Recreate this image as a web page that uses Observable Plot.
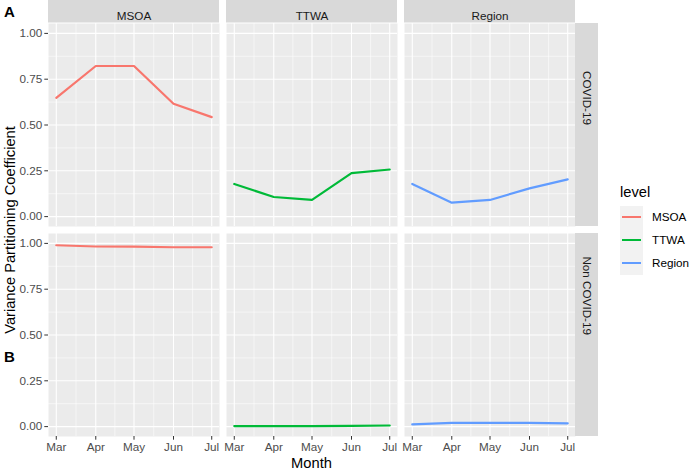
<!DOCTYPE html>
<html><head><meta charset="utf-8">
<script src="https://cdn.jsdelivr.net/npm/d3@7"></script>
<script src="https://cdn.jsdelivr.net/npm/@observablehq/plot@0.6"></script>
<style>
body{margin:0;background:#fff;font-family:"Liberation Sans",Arial,sans-serif;}
#wrap{position:relative;width:689px;height:470px;overflow:hidden;}
#wrap svg{position:absolute;left:0;top:0;}
.lab{position:absolute;white-space:nowrap;color:#000;}
.key{position:absolute;width:23px;height:23px;background:#F2F2F2;}
.key i{position:absolute;left:2px;right:2px;top:10.5px;height:2.2px;}
.kl{position:absolute;font-size:11.7px;color:#000;white-space:nowrap;}
</style></head><body><div id="wrap"></div>
<script>
const months = ["Mar","Apr","May","Jun","Jul"];
const levels = ["MSOA","TTWA","Region"];
const causes = ["COVID-19","Non COVID-19"];
const covidMSOA   = [0.648,0.822,0.822,0.616,0.543];
const covidTTWA   = [0.178,0.107,0.091,0.237,0.257];
const covidRegion = [0.178,0.076,0.091,0.154,0.203];
const nonMSOA     = [0.990,0.983,0.982,0.979,0.979];
const nonTTWA     = [0.003,0.003,0.003,0.004,0.006];
const nonRegion   = [0.012,0.020,0.020,0.020,0.018];
const yTicks = [0,0.25,0.5,0.75,1];
const yMinor = [0.125,0.375,0.625,0.875];
const colors = ["#F8766D","#00BA38","#619CFF"];

const monthDates = months.map((m,i)=>new Date(Date.UTC(2020,2+i,1)));
const series = {
  "COVID-19": {MSOA: covidMSOA, TTWA: covidTTWA, Region: covidRegion},
  "Non COVID-19": {MSOA: nonMSOA, TTWA: nonTTWA, Region: nonRegion}
};
const data = [];
for (const c of causes) for (const l of levels)
  series[c][l].forEach((v,i)=>data.push({date: monthDates[i], level: l, cause: c, value: v}));

const t0 = +monthDates[0], t1 = +monthDates[monthDates.length-1], span = t1 - t0;
const xDomain = [new Date(t0 - 0.05*span), new Date(t1 + 0.05*span)];
const yDomain = [-0.054, 1.054];
const xMinor = monthDates.slice(1).map((d,i)=>new Date((+d + +monthDates[i])/2));

const W=689, H=470, mL=48, mR=114, mT=23, mB=33;
const gap = 7;
const panelW = (W-mL-mR-2*gap)/3, panelH = (H-mT-mB-gap)/2;
const font = "Liberation Sans, Arial, sans-serif";

const chart = Plot.plot({
  width: W, height: H,
  marginLeft: mL, marginRight: mR, marginTop: mT, marginBottom: mB,
  style: {fontFamily: font, fontSize: "11.7px", background: "transparent", overflow: "visible"},
  fx: {domain: levels, paddingInner: gap/(panelW+gap), paddingOuter: 0, axis: null},
  fy: {domain: causes, paddingInner: gap/(panelH+gap), paddingOuter: 0, axis: null},
  x: {type: "utc", domain: xDomain, axis: null},
  y: {domain: yDomain, axis: null},
  color: {domain: levels, range: colors},
  marks: [
    Plot.frame({fill: "#EBEBEB"}),
    Plot.ruleY(yMinor, {stroke: "white", strokeWidth: 0.55}),
    Plot.ruleX(xMinor, {stroke: "white", strokeWidth: 0.55}),
    Plot.ruleY(yTicks, {stroke: "white", strokeWidth: 1.1}),
    Plot.ruleX(monthDates, {stroke: "white", strokeWidth: 1.1}),
    Plot.line(data, {x: "date", y: "value", stroke: "level", fx: "level", fy: "cause", strokeWidth: 2.2}),
    Plot.axisY({ticks: yTicks, tickFormat: d3.format(".2f"), tickSize: 3.7, tickPadding: 2.5, stroke: "#333333", fill: "#4D4D4D", fontSize: 11.7, label: null}),
    Plot.axisX({ticks: monthDates, tickFormat: d3.utcFormat("%b"), tickSize: 3.7, tickPadding: 2.5, stroke: "#333333", fill: "#4D4D4D", fontSize: 11.7, label: null}),
    Plot.rect(levels, {fx: d=>d, fy: ()=>causes[0], fill: "#D9D9D9", insetTop: -mT, insetBottom: panelH}),
    Plot.text(levels, {fx: d=>d, fy: ()=>causes[0], text: d=>d, frameAnchor: "top", dy: -mT/2, fill: "#1A1A1A", fontSize: 11.7}),
    Plot.rect(causes, {fy: d=>d, fx: ()=>levels[2], fill: "#D9D9D9", insetRight: -23, insetLeft: panelW}),
    Plot.text(causes, {fy: d=>d, fx: ()=>levels[2], text: d=>d, frameAnchor: "right", dx: 11.5, rotate: 90, fill: "#1A1A1A", fontSize: 11.7})
  ]
});

const wrap = document.getElementById("wrap");
wrap.appendChild(chart);

function label(txt, css){ const d=document.createElement("div"); d.className="lab"; d.textContent=txt; Object.assign(d.style, css); wrap.appendChild(d); return d; }
label("Variance Partitioning Coefficient", {left: "10px", top: "230px", fontSize: "14.7px", transform: "translate(-50%,-50%) rotate(-90deg)"});
label("Month", {left: (mL + (W-mL-mR)/2) + "px", top: "463px", fontSize: "14.7px", transform: "translate(-50%,-50%)"});
label("A", {left: "4px", top: "3px", fontSize: "15px", fontWeight: "bold"});
label("B", {left: "4px", top: "348px", fontSize: "15px", fontWeight: "bold"});

label("level", {left: "620px", top: "184px", fontSize: "14.7px"});
levels.forEach((l,i)=>{
  const k=document.createElement("div"); k.className="key";
  k.style.left="620px"; k.style.top=(205.5+23*i)+"px";
  const ln=document.createElement("i"); ln.style.background=colors[i]; k.appendChild(ln);
  wrap.appendChild(k);
  const t=document.createElement("div"); t.className="kl"; t.textContent=l;
  t.style.left="652px"; t.style.top=(205.5+23*i+4.5)+"px";
  wrap.appendChild(t);
});
</script></body></html>
